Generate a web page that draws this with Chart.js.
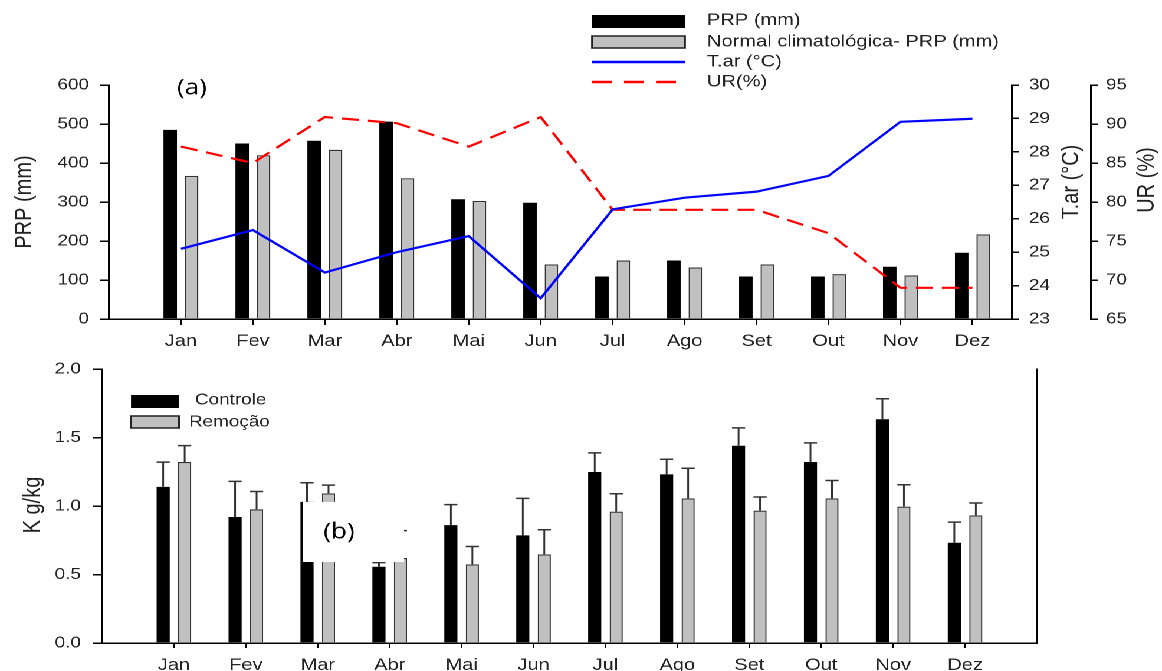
<!DOCTYPE html>
<html>
<head>
<meta charset="utf-8">
<script src="https://cdn.jsdelivr.net/npm/chart.js@4.4.1/dist/chart.umd.min.js"></script>
<style>
  body { margin: 0; background: #fff; overflow: hidden; }
  #wrap { position: relative; width: 985px; height: 671px; transform: scaleX(1.1797); transform-origin: 0 0; }
  #wrap canvas { position: absolute; left: 0; }
</style>
</head>
<body>
<div id="wrap">
  <canvas id="top" width="985" height="360" style="top:0"></canvas>
  <canvas id="bottom" width="985" height="331" style="top:340px"></canvas>
</div>
<script>
// data
const months = ['Jan', 'Fev', 'Mar', 'Abr', 'Mai', 'Jun', 'Jul', 'Ago', 'Set', 'Out', 'Nov', 'Dez'];
const prp = [485, 450, 457, 506, 307, 298, 109, 150, 109, 109, 134, 170];
const prpNormal = [367, 420, 434, 361, 303, 140, 150, 132, 140, 115, 112, 217];
const tAr = [25.1, 25.66, 24.39, 25.0, 25.48, 23.62, 26.28, 26.63, 26.81, 27.28, 28.9, 28.99];
const ur = [87.1, 85.0, 90.9, 90.1, 87.1, 90.9, 79, 79, 79, 76, 69, 69];

const controle = [1.14, 0.92, 1.03, 0.557, 0.86, 0.786, 1.248, 1.231, 1.44, 1.321, 1.633, 0.732];
const controleSd = [0.18, 0.26, 0.14, 0.03, 0.15, 0.27, 0.14, 0.11, 0.13, 0.14, 0.15, 0.15];
const remocao = [1.321, 0.976, 1.092, 0.62, 0.574, 0.647, 0.959, 1.056, 0.966, 1.056, 0.995, 0.932];
const remocaoSd = [0.12, 0.13, 0.06, 0.2, 0.13, 0.18, 0.13, 0.22, 0.1, 0.13, 0.16, 0.09];

const prpTicks = [0, 100, 200, 300, 400, 500, 600];
const kTicks = [0, 0.5, 1.0, 1.5, 2.0];

const SX = 1162 / 985; // the figure is stretched sideways
const px = v => v / SX;
const monthIdx = months.map((m, i) => i + 1);

Chart.defaults.font.family = '"Liberation Sans", Arial, sans-serif';
Chart.defaults.color = '#222';

const axisLine = { display: true, color: '#000', width: 1.5 };
function tickGrid(len) {
  return { display: true, drawOnChartArea: false, drawTicks: true, tickLength: len, color: '#000', lineWidth: 1.5 };
}
function monthAxis(max, len, pad, h) {
  return {
    type: 'linear', position: 'bottom', min: 0, max: max, offset: false,
    border: axisLine, grid: Object.assign(tickGrid(len), { offset: false }),
    afterBuildTicks: s => { s.ticks = monthIdx.map(v => ({ value: v })); },
    afterFit: s => { s.height = h; },
    ticks: { autoSkip: false, maxRotation: 0, padding: pad, font: { size: 17 }, callback: v => months[v - 1] }
  };
}

function rotText(ctx, txt, x, y, size) {
  ctx.save();
  ctx.translate(x, y);
  ctx.rotate(-Math.PI / 2);
  ctx.font = size + 'px "Liberation Sans", Arial, sans-serif';
  ctx.fillStyle = '#222';
  ctx.textAlign = 'center';
  ctx.textBaseline = 'middle';
  ctx.fillText(txt, 0, 0);
  ctx.restore();
}

// ---------- (a) ----------
const topDecor = {
  id: 'topDecor',
  afterDraw(chart) {
    const ctx = chart.ctx, ds = chart.data.datasets;
    ctx.save();
    const x0 = px(592), w = px(93);
    ctx.fillStyle = '#000';
    ctx.fillRect(x0, 15, w, 13);
    ctx.fillStyle = '#c0c0c0';
    ctx.fillRect(x0, 36, w, 12);
    ctx.strokeStyle = '#222'; ctx.lineWidth = 1.5;
    ctx.strokeRect(x0, 36, w, 12);
    ctx.lineWidth = 2.5;
    ctx.strokeStyle = '#0000ff';
    ctx.beginPath(); ctx.moveTo(x0, 62); ctx.lineTo(x0 + w, 62); ctx.stroke();
    ctx.strokeStyle = '#ff0000';
    ctx.setLineDash([px(20), px(12)]);
    ctx.beginPath(); ctx.moveTo(x0, 82); ctx.lineTo(x0 + w, 82); ctx.stroke();
    ctx.setLineDash([]);

    ctx.font = '17px "Liberation Sans", Arial, sans-serif';
    ctx.fillStyle = '#222';
    ctx.textBaseline = 'middle';
    [20.5, 42, 62, 82].forEach((y, i) => ctx.fillText(ds[i].label, px(707), y));

    ctx.font = '22px "Open Sans", sans-serif';
    ctx.textAlign = 'center';
    ctx.fillStyle = '#000';
    ctx.fillText('(a)', px(192), 88);
    ctx.restore();

    rotText(ctx, 'PRP (mm)', px(25), 202, 20);
    rotText(ctx, 'T.ar (°C)', px(1072), 182, 20);
    rotText(ctx, 'UR (%)', px(1147), 180, 20);
  }
};

new Chart(document.getElementById('top'), {
  type: 'bar',
  data: {
    labels: monthIdx,
    datasets: [
      { label: 'PRP (mm)', data: prp, backgroundColor: '#000', borderWidth: 0, yAxisID: 'y', order: 2 },
      { label: 'Normal climatológica- PRP (mm)', data: prpNormal, backgroundColor: '#c0c0c0', borderColor: '#333', borderWidth: 1.2, yAxisID: 'y', order: 2 },
      { type: 'line', label: 'T.ar (°C)', data: tAr, yAxisID: 'yT', borderColor: '#0000ff', borderWidth: 2.2, pointRadius: 0, tension: 0, fill: false, order: 1 },
      { type: 'line', label: 'UR(%)', data: ur, yAxisID: 'yU', borderColor: '#ff0000', borderWidth: 2.2, borderDash: [px(17), px(9)], pointRadius: 0, tension: 0, fill: false, order: 1 }
    ]
  },
  options: {
    responsive: false,
    animation: false,
    devicePixelRatio: 2,
    categoryPercentage: 0.596,
    barPercentage: 0.63,
    layout: { padding: { top: 85, left: 0, right: 0, bottom: 0 } },
    plugins: { legend: { display: false }, tooltip: { enabled: false } },
    scales: {
      x: monthAxis(12.55, 6, 6, 41),
      y: {
        position: 'left', min: 0, max: 600, border: axisLine, grid: tickGrid(px(9)),
        afterBuildTicks: s => { s.ticks = prpTicks.map(v => ({ value: v })); },
        afterFit: s => { s.width = px(109); },
        ticks: { padding: px(11), font: { size: 16 } }
      },
      yT: {
        position: 'right', min: 23, max: 30, border: axisLine, grid: tickGrid(px(7)),
        ticks: { stepSize: 1, padding: px(10), font: { size: 16 } },
        afterFit: s => { s.width = px(79); }
      },
      yU: {
        position: 'right', min: 65, max: 95, border: axisLine, grid: tickGrid(px(7)),
        ticks: { stepSize: 5, padding: px(8), font: { size: 16 } },
        afterFit: s => { s.width = px(71); }
      }
    }
  },
  plugins: [topDecor]
});

// ---------- (b) ----------
const bottomDecor = {
  id: 'bottomDecor',
  afterDatasetsDraw(chart) {
    const ctx = chart.ctx, y = chart.scales.y;
    ctx.save();
    ctx.strokeStyle = '#333';
    ctx.lineWidth = 1.5;
    chart.data.datasets.forEach((ds, i) => {
      chart.getDatasetMeta(i).data.forEach((bar, j) => {
        const top = y.getPixelForValue(ds.data[j] + ds.sd[j]);
        ctx.beginPath();
        ctx.moveTo(bar.x, bar.y); ctx.lineTo(bar.x, top);
        ctx.moveTo(bar.x - bar.width / 2, top); ctx.lineTo(bar.x + bar.width / 2, top);
        ctx.stroke();
      });
    });
    // white label box over the bars
    ctx.fillStyle = '#fff';
    ctx.fillRect(px(303), 162, px(101), 60);
    ctx.fillStyle = '#000';
    ctx.font = '22px "Open Sans", sans-serif';
    ctx.textAlign = 'center';
    ctx.textBaseline = 'middle';
    ctx.fillText('(b)', px(339), 192);
    ctx.restore();
  },
  afterDraw(chart) {
    const ctx = chart.ctx, ds = chart.data.datasets;
    ctx.save();
    ctx.fillStyle = '#000';
    ctx.fillRect(px(131), 55, px(48), 13);
    ctx.fillStyle = '#c0c0c0';
    ctx.fillRect(px(131), 76, px(48), 12);
    ctx.strokeStyle = '#222'; ctx.lineWidth = 1.5;
    ctx.strokeRect(px(131), 76, px(48), 12);
    ctx.font = '16px "Liberation Sans", Arial, sans-serif';
    ctx.fillStyle = '#222';
    ctx.textBaseline = 'middle';
    ctx.fillText(ds[0].label, px(195), 60);
    ctx.fillText(ds[1].label, px(189), 82);
    ctx.restore();
    rotText(ctx, 'K g/kg', px(33), 165, 20);
  }
};

new Chart(document.getElementById('bottom'), {
  type: 'bar',
  data: {
    labels: monthIdx,
    datasets: [
      { label: 'Controle', data: controle, sd: controleSd, backgroundColor: '#000', borderWidth: 0 },
      { label: 'Remoção', data: remocao, sd: remocaoSd, backgroundColor: '#c0c0c0', borderColor: '#333', borderWidth: 1.2 }
    ]
  },
  options: {
    responsive: false,
    animation: false,
    devicePixelRatio: 2,
    categoryPercentage: 0.598,
    barPercentage: 0.61,
    layout: { padding: { top: 29, left: 0, right: 0, bottom: 0 } },
    plugins: { legend: { display: false }, tooltip: { enabled: false } },
    scales: {
      x: monthAxis(13, 5, 7, 28),
      y: {
        position: 'left', min: 0, max: 2, border: axisLine, grid: tickGrid(px(9)),
        afterBuildTicks: s => { s.ticks = kTicks.map(v => ({ value: v })); },
        afterFit: s => { s.width = px(102); },
        ticks: { padding: px(12), font: { size: 16 }, callback: v => v.toFixed(1) }
      },
      y2: {
        position: 'right', min: 0, max: 2, border: axisLine,
        grid: { display: true, drawOnChartArea: false, drawTicks: false },
        ticks: { display: false },
        afterFit: s => { s.width = px(125); }
      }
    }
  },
  plugins: [bottomDecor]
});
</script>
</body>
</html>
